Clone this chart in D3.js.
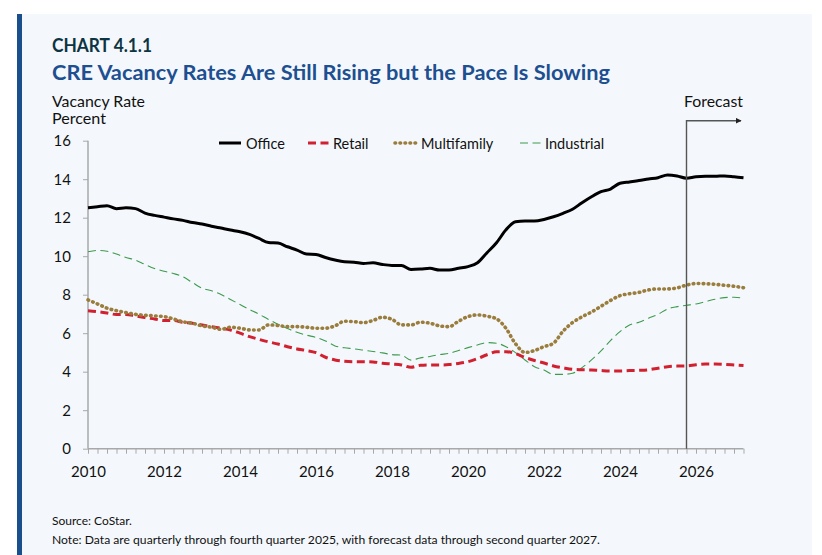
<!DOCTYPE html>
<html>
<head>
<meta charset="utf-8">
<script src="https://cdn.jsdelivr.net/npm/d3@7"></script>
<style>
  body { margin: 0; background: #fff; }
  svg { display: block; font-family: Lato, "Open Sans", sans-serif; }
</style>
</head>
<body>
<div id="chart"></div>
<script>
// quarterly, 2010 Q1 .. 2027 Q2 (forecast from 2025 Q4)
var years = ["2010","2012","2014","2016","2018","2020","2022","2024","2026"];
var yTicks = [0, 2, 4, 6, 8, 10, 12, 14, 16];
var forecastStart = 63;

var office = [12.52,12.57,12.62,12.47,12.52,12.47,12.24,12.12,12.03,11.94,
  11.86,11.75,11.67,11.56,11.46,11.36,11.27,11.13,10.92,10.71,
  10.68,10.49,10.32,10.11,10.09,9.93,9.80,9.71,9.69,9.62,
  9.66,9.57,9.52,9.52,9.31,9.33,9.37,9.28,9.28,9.37,
  9.46,9.66,10.18,10.70,11.37,11.79,11.83,11.83,11.91,12.05,
  12.23,12.44,12.78,13.09,13.35,13.49,13.79,13.86,13.93,14.01,
  14.08,14.22,14.17,14.05,14.13,14.15,14.15,14.17,14.13,14.08];
var retail = [7.17,7.12,7.05,6.97,6.97,6.90,6.81,6.74,6.66,6.66,
  6.57,6.52,6.43,6.34,6.26,6.17,6.00,5.82,5.68,5.55,
  5.44,5.30,5.18,5.10,4.99,4.75,4.61,4.54,4.52,4.52,
  4.51,4.44,4.40,4.35,4.23,4.33,4.35,4.35,4.37,4.43,
  4.52,4.68,4.88,5.03,5.04,4.94,4.74,4.58,4.45,4.30,
  4.20,4.12,4.10,4.09,4.06,4.04,4.04,4.06,4.07,4.10,
  4.18,4.26,4.29,4.30,4.36,4.40,4.40,4.38,4.35,4.32];
var multifamily = [7.73,7.52,7.30,7.17,7.07,6.98,6.93,6.90,6.86,6.74,
  6.59,6.52,6.38,6.31,6.20,6.31,6.26,6.17,6.17,6.43,
  6.40,6.34,6.34,6.31,6.26,6.26,6.38,6.62,6.60,6.55,
  6.66,6.83,6.72,6.43,6.43,6.57,6.52,6.38,6.34,6.62,
  6.86,6.95,6.88,6.75,6.25,5.45,5.00,5.10,5.30,5.48,
  6.10,6.55,6.85,7.10,7.40,7.70,7.95,8.05,8.12,8.25,
  8.30,8.30,8.35,8.50,8.58,8.57,8.54,8.49,8.44,8.36];
var industrial = [10.23,10.30,10.26,10.11,9.93,9.80,9.57,9.36,9.22,9.10,
  8.93,8.63,8.34,8.20,8.01,7.75,7.49,7.23,6.99,6.71,
  6.47,6.24,6.05,5.90,5.78,5.60,5.34,5.24,5.19,5.12,
  5.05,4.98,4.89,4.86,4.60,4.72,4.79,4.89,4.95,5.10,
  5.25,5.39,5.51,5.48,5.30,4.99,4.61,4.26,4.09,3.86,
  3.86,3.92,4.21,4.61,5.08,5.62,6.08,6.43,6.57,6.78,
  6.98,7.26,7.38,7.45,7.52,7.64,7.76,7.85,7.87,7.82];

var seriesNames = ["Office", "Retail", "Multifamily", "Industrial"];

function init() {
    var w = 822, h = 555;
    var svg = d3.select("#chart").append("svg")
        .attr("width", w)
        .attr("height", h);

    // panel + blue bar
    svg.append("rect").attr("x", 17).attr("y", 14)
        .attr("width", 795).attr("height", h - 14).attr("fill", "#f4f8fc");
    svg.append("rect").attr("x", 17).attr("y", 14)
        .attr("width", 5).attr("height", h - 14).attr("fill", "#1a4f8e");

    svg.append("text").attr("x", 52).attr("y", 51.5)
        .attr("font-size", 18.5).attr("font-weight", 700).attr("fill", "#0d3442")
        .attr("textLength", 100).attr("lengthAdjust", "spacingAndGlyphs")
        .text("CHART 4.1.1");
    svg.append("text").attr("x", 52).attr("y", 80)
        .attr("font-size", 21.5).attr("font-weight", 700).attr("fill", "#1d4f91")
        .attr("textLength", 558).attr("lengthAdjust", "spacingAndGlyphs")
        .text("CRE Vacancy Rates Are Still Rising but the Pace Is Slowing");

    svg.append("text").attr("x", 52).attr("y", 106.5)
        .attr("font-size", 15).attr("fill", "#111")
        .attr("textLength", 93).attr("lengthAdjust", "spacingAndGlyphs")
        .text("Vacancy Rate");
    svg.append("text").attr("x", 52).attr("y", 123.5)
        .attr("font-size", 15).attr("fill", "#111")
        .attr("textLength", 54).attr("lengthAdjust", "spacingAndGlyphs")
        .text("Percent");

    var n = office.length;
    var x = d3.scaleLinear().domain([0, n - 1]).range([88, 88 + 9.5 * (n - 1)]);
    var y = d3.scaleLinear().domain([0, 16]).range([448.7, 140.7]);

    // axes
    var xAxis = d3.axisBottom(x)
        .tickValues(d3.range(n))
        .tickSize(5)
        .tickPadding(13)
        .tickFormat(function(i){ return i % 8 === 0 ? years[i / 8] : ""; });
    var gx = svg.append("g").attr("transform", "translate(0," + y(0) + ")").call(xAxis);
    gx.select(".domain").attr("stroke", "#a8a8a8").attr("stroke-width", 1.5)
        .attr("d", "M" + x(0) + ",0H" + x(n - 1));
    gx.selectAll(".tick line").attr("stroke", "#a8a8a8").attr("stroke-width", 1);
    gx.selectAll("text").attr("font-size", 15).attr("font-family", "Lato, sans-serif").attr("fill", "#111");

    var yAxis = d3.axisLeft(y).tickValues(yTicks).tickSize(5).tickPadding(12);
    var gy = svg.append("g").attr("transform", "translate(" + x(0) + ",0)").call(yAxis);
    gy.select(".domain").attr("stroke", "#a8a8a8").attr("stroke-width", 1.5)
        .attr("d", "M0," + y(0) + "V" + y(16));
    gy.selectAll(".tick line").attr("stroke", "#a8a8a8").attr("stroke-width", 1);
    gy.selectAll("text").attr("font-size", 15).attr("font-family", "Lato, sans-serif").attr("fill", "#111");

    var line = d3.line()
        .x(function(d, i){ return x(i); })
        .y(function(d){ return y(d); })
        .curve(d3.curveMonotoneX);

    var styles = {
        Office:      { data: office,      color: "#000000", width: 3,   dash: null,      cap: "butt" },
        Retail:      { data: retail,      color: "#d1202f", width: 3,   dash: "8,4.5",   cap: "butt" },
        Multifamily: { data: multifamily, color: "#9a7d3c", width: 3.6, dash: "0.6,4.4", cap: "round" },
        Industrial:  { data: industrial,  color: "#3e9a4d", width: 1.1, dash: "8,4.5",   cap: "butt" }
    };
    var drawOrder = ["Industrial", "Retail", "Multifamily", "Office"];

    drawOrder.forEach(function(name){
        var s = styles[name];
        svg.append("path")
            .datum(s.data)
            .attr("fill", "none")
            .attr("stroke", s.color)
            .attr("stroke-width", s.width)
            .attr("stroke-dasharray", s.dash)
            .attr("stroke-linecap", s.cap)
            .attr("stroke-linejoin", "round")
            .attr("d", line);
    });

    // forecast marker
    var fx = x(forecastStart);
    svg.append("defs").append("marker")
        .attr("id", "arrow")
        .attr("viewBox", "0 0 10 10")
        .attr("refX", 9).attr("refY", 5)
        .attr("markerWidth", 6).attr("markerHeight", 6)
        .attr("markerUnits", "userSpaceOnUse")
        .attr("orient", "auto")
        .append("path").attr("d", "M0,0L10,5L0,10Z").attr("fill", "#222");
    svg.append("path")
        .attr("d", "M" + fx + "," + y(0) + "V120.7H741")
        .attr("fill", "none").attr("stroke", "#555").attr("stroke-width", 1.4)
        .attr("marker-end", "url(#arrow)");
    svg.append("text").attr("x", 684).attr("y", 107)
        .attr("font-size", 15).attr("fill", "#111")
        .attr("textLength", 59).attr("lengthAdjust", "spacingAndGlyphs")
        .text("Forecast");

    // legend
    var legendPos = [
        { name: "Office",      x0: 219, tx: 246 },
        { name: "Retail",      x0: 308, tx: 333 },
        { name: "Multifamily", x0: 395, tx: 421 },
        { name: "Industrial",  x0: 520, tx: 545 }
    ];
    var legend = svg.selectAll(".legend").data(legendPos).enter()
        .append("g").attr("class", "legend");
    legend.append("line")
        .attr("x1", function(d){ return d.x0; })
        .attr("x2", function(d){ return d.x0 + 22; })
        .attr("y1", 143).attr("y2", 143)
        .attr("stroke", function(d){ return styles[d.name].color; })
        .attr("stroke-width", function(d){ return styles[d.name].width; })
        .attr("stroke-dasharray", function(d){ return styles[d.name].dash; })
        .attr("stroke-linecap", function(d){ return styles[d.name].cap; });
    legend.append("text")
        .attr("x", function(d){ return d.tx; })
        .attr("y", 148.5)
        .attr("font-size", 14.5).attr("fill", "#111")
        .text(function(d){ return d.name; });

    // notes
    svg.append("text").attr("x", 52).attr("y", 525)
        .attr("font-size", 12).attr("fill", "#111")
        .text("Source: CoStar.");
    svg.append("text").attr("x", 52).attr("y", 544)
        .attr("font-size", 12).attr("fill", "#111")
        .attr("textLength", 548).attr("lengthAdjust", "spacingAndGlyphs")
        .text("Note: Data are quarterly through fourth quarter 2025, with forecast data through second quarter 2027.");
}

window.onload = init;
</script>
</body>
</html>
